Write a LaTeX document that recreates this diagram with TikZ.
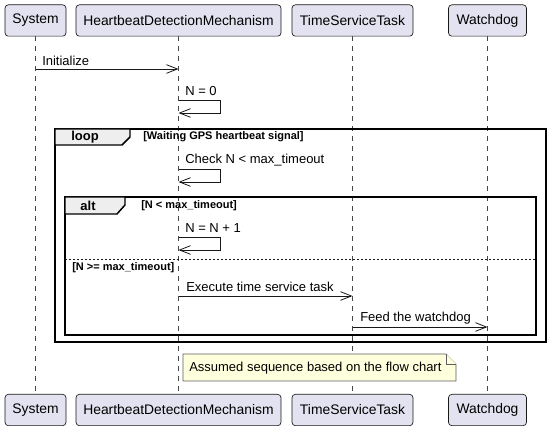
\documentclass[tikz,border=0pt]{standalone}
\usepackage{fontspec}
\setmainfont{Liberation Sans}
\usetikzlibrary{arrows.meta}
\definecolor{partfill}{HTML}{E2E2F0}
\definecolor{partline}{HTML}{181818}
\definecolor{tabfill}{HTML}{EEEEEE}
\definecolor{notefill}{HTML}{FEFFDD}
\tikzset{
  participant/.style={draw=partline, fill=partfill, rounded corners=2.5pt, line width=0.5pt,
    minimum height=23.5pt, inner sep=0pt, font=\fontsize{10.4}{12}\selectfont},
  lifeline/.style={draw=partline!80, line width=0.4pt, dash pattern=on 3.75pt off 3.75pt},
  msg/.style={draw=partline, line width=0.6pt, -{Straight Barb[length=8.25pt, width=6.5pt]}},
  msgtext/.style={anchor=west, inner sep=0pt, font=\fontsize{9.75}{12}\selectfont},
  frame/.style={draw=black, line width=1.1pt},
  tab/.style={draw=black, fill=tabfill, line width=1.1pt},
  guard/.style={anchor=west, inner sep=0pt, font=\fontsize{8.25}{10}\bfseries\selectfont},
  note/.style={draw=partline!70, fill=notefill, line width=0.4pt}
}
\begin{document}
\begin{tikzpicture}[x=0.75pt, y=-0.75pt]
  \useasboundingbox (0,0) rectangle (551,431);
  % participants, top and bottom
  \node[participant, minimum width=45.75pt] (sysTop) at (35.5,20.5) {System};
  \node[participant, minimum width=153.75pt] (hdmTop) at (178.5,20.5) {HeartbeatDetectionMechanism};
  \node[participant, minimum width=90.75pt] (tstTop) at (352.5,20.5) {TimeServiceTask};
  \node[participant, minimum width=58.5pt] (wdTop) at (487.5,20.5) {Watchdog};
  \node[participant, minimum width=45.75pt] (sysBot) at (35.5,410) {System};
  \node[participant, minimum width=153.75pt] (hdmBot) at (178.5,410) {HeartbeatDetectionMechanism};
  \node[participant, minimum width=90.75pt] (tstBot) at (352.5,410) {TimeServiceTask};
  \node[participant, minimum width=58.5pt] (wdBot) at (487.5,410) {Watchdog};
  % lifelines
  \draw[lifeline] (sysTop.south) -- (sysBot.north);
  \draw[lifeline] (hdmTop.south) -- (hdmBot.north);
  \draw[lifeline] (tstTop.south) -- (tstBot.north);
  \draw[lifeline] (wdTop.south) -- (wdBot.north);

  % loop frame
  \draw[frame] (55,129) rectangle (546,342);
  \draw[tab] (55,129) -- (130,129) -- (130,137) -- (122,145) -- (55,145) -- cycle;
  \node[font=\fontsize{9.75}{12}\bfseries\selectfont] (loopLbl) at (85,137.5) {loop};
  \node[guard] (loopCond) at (143,137) {[Waiting GPS heartbeat signal]};

  % alt frame
  \draw[frame] (65,197) rectangle (536,335);
  \draw[tab] (65,197) -- (125,197) -- (125,205) -- (117,214) -- (65,214) -- cycle;
  \node[font=\fontsize{9.75}{12}\bfseries\selectfont] (altLbl) at (88,206) {alt};
  \node[guard] (altCond) at (141,206) {[N < max\_timeout]};
  \draw[partline, line width=0.5pt, dash pattern=on 1.5pt off 1.5pt] (65,259) -- (536,259);
  \node[guard] (elseCond) at (72,268) {[N >= max\_timeout]};

  % messages
  \coordinate (m1a) at (sysTop.south |- 0,69);
  \coordinate (m1b) at (hdmTop.south |- 0,69);
  \node[msgtext] (m1) at (42,61) {Initialize};
  \draw[msg] (m1a) -- (m1b);

  \coordinate (m2a) at (hdmTop.south |- 0,100);
  \coordinate (m2b) at (hdmTop.south |- 0,113);
  \node[msgtext] (m2) at (185,91) {N = 0};
  \draw[msg] (m2a) -- ++(42,0) |- (m2b);

  \coordinate (m3a) at (hdmTop.south |- 0,169);
  \coordinate (m3b) at (hdmTop.south |- 0,182);
  \node[msgtext] (m3) at (185,160) {Check N < max\_timeout};
  \draw[msg] (m3a) -- ++(42,0) |- (m3b);

  \coordinate (m4a) at (hdmTop.south |- 0,237);
  \coordinate (m4b) at (hdmTop.south |- 0,250);
  \node[msgtext] (m4) at (185,228) {N = N + 1};
  \draw[msg] (m4a) -- ++(42,0) |- (m4b);

  \coordinate (m5a) at (hdmTop.south |- 0,296);
  \coordinate (m5b) at (tstTop.south |- 0,296);
  \node[msgtext] (m5) at (186,287) {Execute time service task};
  \draw[msg] (m5a) -- (m5b);

  \coordinate (m6a) at (tstTop.south |- 0,327);
  \coordinate (m6b) at (wdTop.south |- 0,327);
  \node[msgtext] (m6) at (360,318) {Feed the watchdog};
  \draw[msg] (m6a) -- (m6b);

  % note
  \draw[note] (183,354) -- (446,354) -- (456,364) -- (456,381) -- (183,381) -- cycle;
  \draw[note] (446,354) -- (446,364) -- (456,364);
  \node[msgtext] (noteTxt) at (189,368) {Assumed sequence based on the flow chart};
\end{tikzpicture}
\end{document}
